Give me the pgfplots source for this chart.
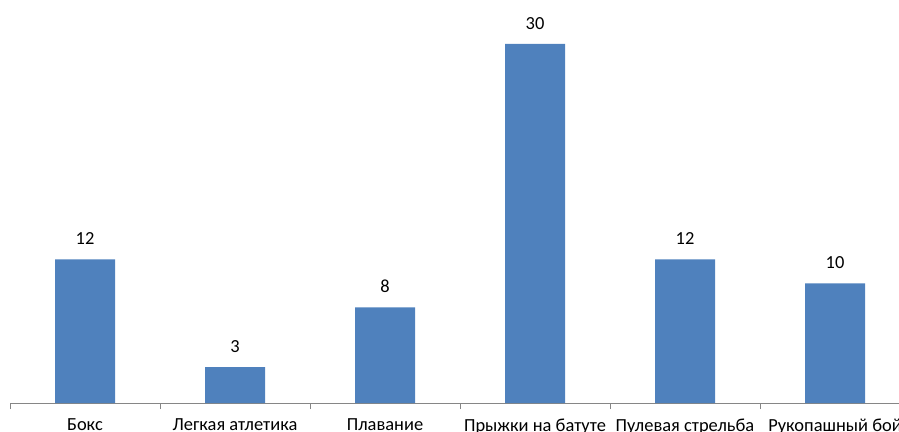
\documentclass[border=0pt]{standalone}
\usepackage{pgfplots}
\pgfplotsset{compat=1.18}
\usepackage{fontspec}
\setmainfont{Carlito}
\definecolor{barblue}{HTML}{4F81BD}
\definecolor{axgray}{HTML}{868686}
\begin{document}
\begin{tikzpicture}[x=1bp,y=1bp]
\begin{axis}[
  at={(10bp,29bp)}, anchor=south west,
  scale only axis, width=900bp, height=359bp,
  xmin=-0.5, xmax=5.5, ymin=0, ymax=30,
  axis x line=bottom, axis y line=none,
  axis line style={axgray, -},
  x axis line style={-},
  xtick={0,...,5},
  xticklabels={Бокс,Легкая атлетика,Плавание,Прыжки на батуте,Пулевая стрельба,Рукопашный бой},
  major tick length=0pt,
  minor xtick={-0.5,0.5,...,5.5},
  minor tick length=6bp,
  tick align=outside,
  tick style={axgray},
  xticklabel style={font=\fontsize{18.5}{22}\selectfont, yshift=-12bp},
  /pgf/number format/assume math mode=true,
  ybar, bar width=60bp,
  nodes near coords,
  every node near coord/.append style={font=\fontsize{18.5}{22}\selectfont, black, yshift=11bp},
  clip=false,
]
\addplot[fill=barblue, draw=none] coordinates {(0,12) (1,3) (2,8) (3,30) (4,12) (5,10)};
\end{axis}
\pgfresetboundingbox
\useasboundingbox (0,0) rectangle (899bp,432bp);
\end{tikzpicture}
\end{document}
